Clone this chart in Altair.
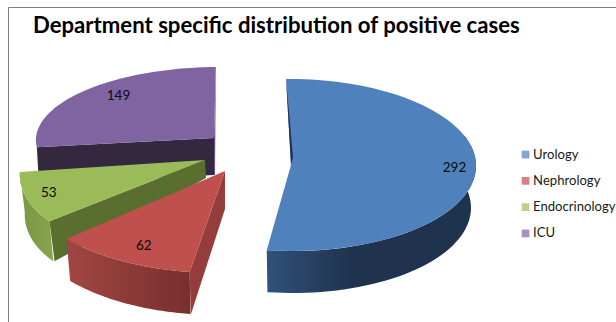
import math
import altair as alt
import pandas as pd

# Chart content
departments = ["Urology", "Nephrology", "Endocrinology", "ICU"]
cases = [292, 62, 53, 149]
top_colours = ["#4f81bd", "#c0504d", "#9bbb59", "#8064a2"]
title_text = "Department specific distribution of positive cases"

FONT = "Lato"
W, H = 616, 322
X = alt.X("x:Q", axis=None, scale=alt.Scale(domain=[0, W], range=[0, W]))
Y = alt.Y("y:Q", axis=None, scale=alt.Scale(domain=[0, H], range=[0, H]))

# Exploded pie layout: apex, ellipse radii, lean of the ellipse, wall depth and label placement
slices = {
    "Urology": dict(apex=(291, 165), rx=185, ry=86, lean=0.02, depth=42, low_rx=180, label=(0.885, 0.5)),
    "Nephrology": dict(apex=(225, 171), rx=207, ry=102, lean=-0.062, depth=42, low_rx=202, label=(0.785, 0.83)),
    "Endocrinology": dict(apex=(205, 160), rx=183, ry=92, lean=-0.31, depth=40, low_rx=178, label=(0.877, 0.87)),
    "ICU": dict(apex=(214, 138), rx=178, ry=71, lean=-0.07, depth=37, low_rx=176, label=(0.73, 0.91)),
}

# Each slice's sweep follows from its share of the total, clockwise from twelve o'clock
total = sum(cases)
first_angle = -1.0
sweep = {}
start = first_angle
for name, value in zip(departments, cases):
    sweep[name] = (start, start + 360.0 * value / total)
    start += 360.0 * value / total


def rim(name, t, radius=None, drop=0.0):
    s = slices[name]
    rx = radius if radius is not None else s["rx"]
    a = math.radians(t)
    dy = -s["ry"] * math.cos(a)
    return (s["apex"][0] + rx * math.sin(a) + s["lean"] * dy, s["apex"][1] + dy + drop)


def arc(name, t0, t1, radius=None, drop=0.0, steps=48):
    return [rim(name, t0 + (t1 - t0) * i / steps, radius, drop) for i in range(steps + 1)]


def shade(points, fill):
    rows = [{"x": x, "y": y, "o": i} for i, (x, y) in enumerate(points + points[:1])]
    return (
        alt.Chart(pd.DataFrame(rows))
        .mark_line(fill=fill, strokeWidth=0, interpolate="linear")
        .encode(x=X, y=Y, order="o:Q")
    )


def ramp(stops, x1=0, x2=1):
    return alt.Gradient(
        gradient="linear", x1=x1, x2=x2, y1=0, y2=0,
        stops=[alt.GradientStop(offset=o, color=c) for o, c in stops],
    )


def outer_wall(name, t0, t1, fill):
    s = slices[name]
    return shade(arc(name, t0, t1) + arc(name, t1, t0, s["low_rx"], s["depth"]), fill)


def top_face(name, colour):
    s = slices[name]
    return shade([s["apex"]] + arc(name, *sweep[name]), colour)


layers = []

# Frame of the chart area
frame = pd.DataFrame({"x": [8.5, 8.5, W], "y": [H, 7.5, 7.5], "o": [0, 1, 2]})
layers.append(alt.Chart(frame).mark_line(color="#7f7f7f", strokeWidth=1).encode(x=X, y=Y, order="o:Q"))

# ICU
a = slices["ICU"]
t0, t1 = sweep["ICU"]
left = rim("ICU", t0)
layers.append(shade([left, a["apex"], (a["apex"][0], a["apex"][1] + a["depth"]), (left[0] + 2, left[1] + a["depth"])], "#33283f"))
tip = rim("ICU", t1)
layers.append(shade([tip, a["apex"], (a["apex"][0], a["apex"][1] + a["depth"]), (a["apex"][0] + 1, a["apex"][1] + a["depth"])], "#6a5287"))
layers.append(top_face("ICU", top_colours[3]))

# Endocrinology
a = slices["Endocrinology"]
t0, t1 = sweep["Endocrinology"]
layers.append(outer_wall("Endocrinology", t0, t1, ramp([(0, "#7a9645"), (1, "#86a44e")])))
front = rim("Endocrinology", t0)
layers.append(shade([a["apex"], (a["apex"][0] + 1, a["apex"][1] + 18), (front[0] + 5, front[1] + a["depth"]), front], "#5a6e30"))
layers.append(top_face("Endocrinology", top_colours[2]))

# Nephrology
a = slices["Nephrology"]
t0, t1 = sweep["Nephrology"]
layers.append(outer_wall("Nephrology", t0, t1, ramp([(0, "#a24643"), (1, "#772f2d")])))
front = rim("Nephrology", t0)
layers.append(shade([a["apex"], (a["apex"][0], a["apex"][1] + 38), (front[0] + 1, front[1] + 43), front], "#953d3b"))
layers.append(top_face("Nephrology", top_colours[1]))

# Urology
a = slices["Urology"]
t0, t1 = sweep["Urology"]
layers.append(outer_wall("Urology", 70, t1, ramp([(0, "#1f334e"), (0.6, "#1f334e"), (1, "#30527a")], x1=1, x2=0)))
layers.append(top_face("Urology", top_colours[0]))
back = rim("Urology", t0)
layers.append(shade([back, a["apex"], (a["apex"][0] + 2, a["apex"][1] - 8)], "#1f334e"))

# Value labels inside the slices
label_rows = []
for name, value in zip(departments, cases):
    s = slices[name]
    mid = math.radians(sum(sweep[name]) / 2)
    fx, fy = s["label"]
    dy = -fy * s["ry"] * math.cos(mid)
    label_rows.append({
        "x": s["apex"][0] + fx * s["rx"] * math.sin(mid) + s["lean"] * dy,
        "y": s["apex"][1] + dy,
        "cases": value,
    })
layers.append(
    alt.Chart(pd.DataFrame(label_rows))
    .mark_text(font=FONT, fontSize=13.5, color="#0a0a0a")
    .encode(x=X, y=Y, text="cases:Q")
)

# Heading
layers.append(
    alt.Chart(pd.DataFrame({"x": [33], "y": [26], "t": [title_text]}))
    .mark_text(font=FONT, fontSize=22.15, fontWeight="bold", color="#000000", align="left")
    .encode(x=X, y=Y, text="t:N")
)

# Legend, carried by a table of invisible points
legend_table = pd.DataFrame({"dept": departments, "x": [0] * 4, "y": [0] * 4})
layers.append(
    alt.Chart(legend_table)
    .mark_square(size=0)
    .encode(
        x=X, y=Y,
        fill=alt.Fill(
            "dept:N",
            sort=departments,
            scale=alt.Scale(domain=departments, range=top_colours),
            legend=alt.Legend(
                title=None, orient="none", legendX=519, legendY=148,
                symbolType="square", symbolSize=60, symbolStrokeWidth=0,
                labelFont=FONT, labelFontSize=13.1, labelColor="#1a1a1a",
                rowPadding=12.3, labelOffset=1, labelLimit=200,
            ),
        ),
    )
)

chart = (
    alt.layer(*layers)
    .properties(width=W, height=H, padding=0, autosize=alt.AutoSizeParams(type="none"), background="#ffffff")
    .configure_view(stroke=None)
)

chart.save("out.html", embed_options={"renderer": "svg", "actions": False})
